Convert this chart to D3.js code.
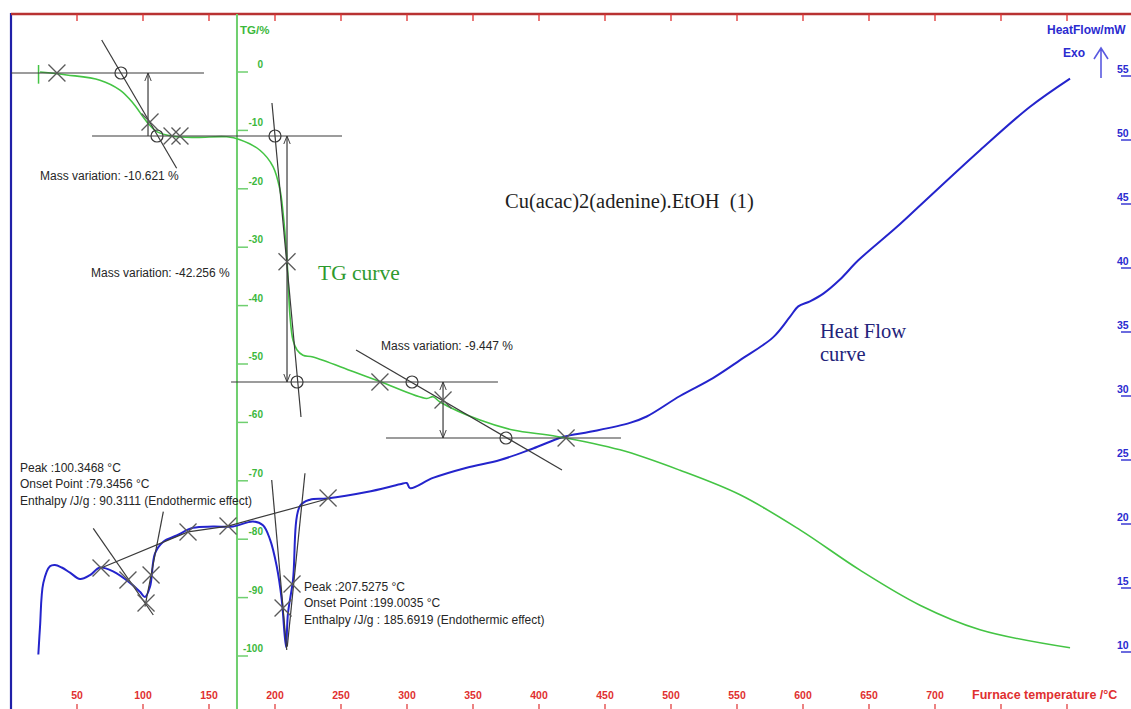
<!DOCTYPE html>
<html>
<head>
<meta charset="utf-8">
<script src="https://cdn.jsdelivr.net/npm/d3@7"></script>
<style>
  html, body { margin: 0; padding: 0; background: #fff; }
  svg { display: block; }
</style>
</head>
<body>
<svg id="chart" width="1131" height="709"></svg>
<script>
// ---------------- DATA ----------------
// Temperature axis (°C)
const tempTicks = [50, 100, 150, 200, 250, 300, 350, 400, 450, 500, 550, 600, 650, 700];
const tempTopTicks = [50, 100, 150, 200, 250, 300, 350, 400, 450, 500, 550, 600, 650, 700, 750, 800, 850];
const tgTicks = [0, -10, -20, -30, -40, -50, -60, -70, -80, -90, -100];
const hfTicks = [10, 15, 20, 25, 30, 35, 40, 45, 50, 55];

// TG curve: [temperature °C, TG %]
const tgTemp = [22.0, 42.2, 67.4, 82.6, 92.4, 102.8, 110.4, 122.7, 140, 163.4, 173.5, 188.6, 198.5, 203.8, 206.1, 209.1, 211.4, 213.6, 216.7, 221.2, 228.8, 259.1, 279.5, 314.9, 319.7, 325.0, 355.3, 380.3, 413.6, 461.4, 506.8, 552.3, 597.7, 643.2, 688.6, 734.1, 802.3];
const tgValue = [0, -0.5, -1.4, -3.1, -5.3, -8.5, -10.2, -11.0, -11.2, -11.1, -11.6, -13.4, -16.2, -20.2, -24.1, -32.2, -41.9, -45.9, -47.6, -48.5, -48.8, -51.3, -53.0, -55.9, -55.6, -56.5, -59.6, -61.3, -62.4, -64.7, -68.2, -72.4, -78.4, -85.3, -91.3, -95.5, -98.6];

// Heat flow curve: [temperature °C, heat flow mW]
const hfTemp = [20.7, 22.0, 24.5, 29.5, 33.3, 38.4, 44.7, 52.3, 59.8, 67.4, 77.3, 90.2, 97.7, 101.5, 105.3, 109.1, 115.2, 125.5, 137.9, 153.0, 168.2, 183.3, 190.9, 196.2, 201.3, 205.1, 208.3, 209.8, 213.6, 218.9, 226.5, 239.2, 269.5, 294.7, 299.8, 302.3, 319.7, 345.2, 370.5, 395.5, 418.2, 438.6, 468.9, 481.6, 506.8, 531.8, 552.3, 577.5, 590.2, 596.4, 605.3, 615.4, 628.0, 641.9, 671.0, 690.9, 734.1, 772.0, 802.3];
const hfValue = [9.8, 12.0, 15.4, 16.7, 16.8, 16.6, 16.2, 15.7, 16.0, 16.6, 16.3, 15.4, 14.7, 14.3, 15.1, 17.7, 18.6, 19.1, 19.7, 19.8, 19.8, 20.2, 19.9, 18.8, 16.7, 14.1, 10.4, 13.0, 15.6, 21.4, 21.9, 22.0, 22.5, 23.1, 23.2, 22.8, 23.6, 24.4, 25.0, 25.9, 26.8, 27.2, 27.9, 28.4, 30.0, 31.4, 32.8, 34.6, 36.2, 37.0, 37.4, 38.0, 39.1, 40.6, 43.2, 45.1, 49.2, 52.6, 54.8];

// TG analysis annotations (temperature, TG %)
const tgLevels = [[0, 146.2, -0.17], [61.4, 250.8, -10.96], [166.7, 368.9, -53.08], [284.1, 462.1, -62.67]]; // [T1, T2, TG]
const tgTangents = [[68.7, 5.48, 125.5, -16.49], [197.7, -5.31, 219.7, -59.08], [261.4, -47.6, 417.4, -68.15]];
const tgArrows = [[103.8, -0.17, -10.96, false], [209.1, -10.96, -53.08, true], [327.3, -53.08, -62.67, true]]; // [T, from, to, double]
const tgCircles = [[83.3, -0.17], [110.6, -10.96], [200.0, -10.96], [216.7, -53.08], [303.8, -53.08], [375.0, -62.67]];
const tgCrosses = [[34.8, -0.17], [105.3, -8.56], [122.0, -10.96], [128.0, -10.96], [209.1, -32.5], [279.5, -53.08], [327.3, -56.16], [420.5, -62.67]];
const tgTexts = [[22.0, -18.5, "Mass variation: -10.621 %"], [60.6, -35.1, "Mass variation: -42.256 %"], [280.3, -47.6, "Mass variation: -9.447 %"]];

// DSC analysis annotations (temperature, heat flow mW)
const hfBaseline = [[68.2, 16.56], [134.1, 19.38], [164.4, 19.84], [239.4, 21.95]];
const hfTangents = [[62.3, 19.66, 107.8, 12.89], [115.4, 20.96, 101.5, 13.54], [197.5, 23.44, 208.9, 10.16], [222.7, 23.96, 209.3, 10.41]];
const hfCrosses = [[68.2, 16.56], [88.6, 15.63], [106.1, 16.02], [102.3, 13.83], [134.1, 19.38], [164.4, 19.84], [206.1, 13.44], [212.9, 15.31], [240.2, 22.03]];
const peak1Text = ["Peak :100.3468 °C", "Onset Point :79.3456 °C", "Enthalpy /J/g : 90.3111 (Endothermic effect)"];
const peak2Text = ["Peak :207.5275 °C", "Onset Point :199.0035 °C", "Enthalpy /J/g : 185.6919 (Endothermic effect)"];
const peakTextPos = [[6.8, 24.06], [222.0, 14.77]]; // first-line anchor

// ---------------- SCALES ----------------
const svg = d3.select("#chart");
const x = d3.scaleLinear().domain([0, 850]).range([11, 11 + 850 * 1.32]);
const yTG = d3.scaleLinear().domain([0, -100]).range([72, 656]);
const yHF = d3.scaleLinear().domain([55, 10]).range([76, 652]);
const tgAxisT = 171.2;

const RED = "#e03030", DARKRED = "#b83232", GREEN_AX = "#6fcf6f", GREEN_TXT = "#3cb83c",
      GREEN_CURVE = "#44c444", BLUE_CURVE = "#2424cc", BLUE_TXT = "#2b2bd0", ANN = "#3a3a3a";
const SANS = "Liberation Sans, Arial, sans-serif", SERIF = "Liberation Serif, 'Times New Roman', serif";

// ---------------- FRAME / AXES ----------------
svg.append("line").attr("x1", x(0)).attr("x2", x(0)).attr("y1", 13).attr("y2", 709)
  .attr("stroke", "#2020a8").attr("stroke-width", 2.2);
svg.append("line").attr("x1", x(0)).attr("x2", 1131).attr("y1", 14).attr("y2", 14)
  .attr("stroke", DARKRED).attr("stroke-width", 2.4);
svg.append("g").selectAll("line").data(tempTopTicks).join("line")
  .attr("x1", d => x(d)).attr("x2", d => x(d)).attr("y1", 14).attr("y2", 21)
  .attr("stroke", RED).attr("stroke-width", 1.3);

svg.append("g").selectAll("text").data(tempTicks).join("text")
  .attr("x", d => x(d)).attr("y", 699).attr("text-anchor", "middle")
  .attr("font-family", SANS).attr("font-size", 10.5).attr("font-weight", "bold")
  .attr("fill", RED).text(d => d);
svg.append("g").selectAll("line").data(tempTopTicks).join("line")
  .attr("x1", d => x(d)).attr("x2", d => x(d)).attr("y1", 704).attr("y2", 709)
  .attr("stroke", RED).attr("stroke-width", 1.2);
svg.append("text").attr("x", 972).attr("y", 699)
  .attr("font-family", SANS).attr("font-size", 12.5).attr("font-weight", "bold")
  .attr("fill", RED).text("Furnace temperature /°C");

// TG axis
svg.append("line").attr("x1", x(tgAxisT)).attr("x2", x(tgAxisT)).attr("y1", 14).attr("y2", 709)
  .attr("stroke", GREEN_AX).attr("stroke-width", 2);
svg.append("g").selectAll("line").data(tgTicks).join("line")
  .attr("x1", x(tgAxisT)).attr("x2", x(tgAxisT) + 11).attr("y1", d => yTG(d)).attr("y2", d => yTG(d))
  .attr("stroke", GREEN_AX).attr("stroke-width", 1.5);
svg.append("g").selectAll("text").data(tgTicks).join("text")
  .attr("x", x(tgAxisT) + 26).attr("y", d => yTG(d) - 4).attr("text-anchor", "end")
  .attr("font-family", SANS).attr("font-size", 10).attr("font-weight", "bold")
  .attr("fill", GREEN_TXT).text(d => d);
svg.append("text").attr("x", x(tgAxisT) + 3).attr("y", 34)
  .attr("font-family", SANS).attr("font-size", 11.5).attr("font-weight", "bold")
  .attr("fill", GREEN_TXT).text("TG/%");

// Heat flow axis (right)
svg.append("g").selectAll("text").data(hfTicks).join("text")
  .attr("x", 1117).attr("y", d => yHF(d) - 3)
  .attr("font-family", SANS).attr("font-size", 10.5).attr("font-weight", "bold")
  .attr("fill", BLUE_TXT).text(d => d);
svg.append("g").selectAll("line").data(hfTicks).join("line")
  .attr("x1", 1121).attr("x2", 1131).attr("y1", d => yHF(d)).attr("y2", d => yHF(d))
  .attr("stroke", BLUE_TXT).attr("stroke-width", 1.4);
svg.append("text").attr("x", 1047).attr("y", 34)
  .attr("font-family", SANS).attr("font-size", 12).attr("font-weight", "bold")
  .attr("fill", BLUE_TXT).text("HeatFlow/mW");
svg.append("text").attr("x", 1063).attr("y", 57)
  .attr("font-family", SANS).attr("font-size", 12).attr("font-weight", "bold")
  .attr("fill", BLUE_TXT).text("Exo");
svg.append("path").attr("d", "M1101,78 L1101,48 M1094,59 L1101,48 L1108,59")
  .attr("fill", "none").attr("stroke", "#5a5ae0").attr("stroke-width", 1.6);

// ---------------- CURVES ----------------
const tgData = tgTemp.map((t, i) => [t, tgValue[i]]);
const hfData = hfTemp.map((t, i) => [t, hfValue[i]]);

svg.append("path").datum(hfData)
  .attr("d", d3.line().x(d => x(d[0])).y(d => yHF(d[1])).curve(d3.curveCatmullRom.alpha(0.5)))
  .attr("fill", "none").attr("stroke", BLUE_CURVE).attr("stroke-width", 2);

svg.append("path").datum(tgData)
  .attr("d", d3.line().x(d => x(d[0])).y(d => yTG(d[1])).curve(d3.curveCatmullRom.alpha(0.5)))
  .attr("fill", "none").attr("stroke", GREEN_CURVE).attr("stroke-width", 1.6);
svg.append("line").attr("x1", x(tgTemp[0]) - 1.5).attr("x2", x(tgTemp[0]) - 1.5)
  .attr("y1", yTG(tgValue[0] + 1.2)).attr("y2", yTG(tgValue[0] - 2))
  .attr("stroke", GREEN_CURVE).attr("stroke-width", 1.5);

// ---------------- ANNOTATIONS ----------------
const defs = svg.append("defs");
defs.append("marker").attr("id", "ah").attr("viewBox", "0 0 10 10").attr("refX", 10).attr("refY", 5)
  .attr("markerWidth", 8).attr("markerHeight", 8).attr("orient", "auto-start-reverse")
  .attr("markerUnits", "userSpaceOnUse")
  .append("path").attr("d", "M0,1 L10,5 L0,9").attr("fill", "none").attr("stroke", ANN).attr("stroke-width", 1.2);

const ann = svg.append("g").attr("stroke", ANN).attr("fill", "none").attr("stroke-width", 1.2);

ann.selectAll(".lvl").data(tgLevels).join("line").attr("class", "lvl")
  .attr("x1", d => x(d[0])).attr("x2", d => x(d[1])).attr("y1", d => yTG(d[2])).attr("y2", d => yTG(d[2]));
ann.selectAll(".tan").data(tgTangents).join("line").attr("class", "tan")
  .attr("x1", d => x(d[0])).attr("y1", d => yTG(d[1])).attr("x2", d => x(d[2])).attr("y2", d => yTG(d[3]));
ann.selectAll(".arr").data(tgArrows).join("line").attr("class", "arr")
  .attr("x1", d => x(d[0])).attr("x2", d => x(d[0])).attr("y1", d => yTG(d[2])).attr("y2", d => yTG(d[1]))
  .attr("marker-end", "url(#ah)").attr("marker-start", d => d[3] ? "url(#ah)" : null);
ann.selectAll(".cir").data(tgCircles).join("circle").attr("class", "cir")
  .attr("cx", d => x(d[0])).attr("cy", d => yTG(d[1])).attr("r", 6);

function crosses(data, yScale, cls) {
  ann.selectAll("." + cls).data(data).join("path").attr("class", cls)
    .attr("stroke", "#5a5a5a").attr("stroke-width", 1.3)
    .attr("d", d => {
      const cx = x(d[0]), cy = yScale(d[1]), s = 8.5;
      return `M${cx - s},${cy - s}L${cx + s},${cy + s}M${cx - s},${cy + s}L${cx + s},${cy - s}`;
    });
}
crosses(tgCrosses, yTG, "tgx");

ann.append("path").datum(hfBaseline)
  .attr("d", d3.line().x(d => x(d[0])).y(d => yHF(d[1])));
ann.selectAll(".htan").data(hfTangents).join("line").attr("class", "htan")
  .attr("x1", d => x(d[0])).attr("y1", d => yHF(d[1])).attr("x2", d => x(d[2])).attr("y2", d => yHF(d[3]));
crosses(hfCrosses, yHF, "hfx");

const txt = svg.append("g").attr("font-family", SANS)
  .attr("font-size", 12).attr("fill", "#262626");
txt.selectAll(".mv").data(tgTexts).join("text").attr("class", "mv")
  .attr("x", d => x(d[0])).attr("y", d => yTG(d[1])).text(d => d[2]);
[peak1Text, peak2Text].forEach((lines, k) => {
  txt.append("g").selectAll("text").data(lines).join("text")
    .attr("x", x(peakTextPos[k][0])).attr("y", (d, i) => yHF(peakTextPos[k][1]) + i * 16.3).text(d => d);
});

// Titles
svg.append("text").attr("x", 505).attr("y", 208)
  .attr("font-family", SERIF).attr("font-size", 20.5)
  .attr("fill", "#1e1e1e").style("white-space", "pre")
  .text("Cu(acac)2(adenine).EtOH  (1)");
svg.append("text").attr("x", 318).attr("y", 280)
  .attr("font-family", SERIF).attr("font-size", 21.5)
  .attr("fill", "#2e9a2e").text("TG curve");
svg.append("text").attr("x", 820).attr("y", 338)
  .attr("font-family", SERIF).attr("font-size", 20.5)
  .attr("fill", "#23237a").text("Heat Flow");
svg.append("text").attr("x", 820).attr("y", 361)
  .attr("font-family", SERIF).attr("font-size", 20.5)
  .attr("fill", "#23237a").text("curve");
</script>
</body>
</html>
